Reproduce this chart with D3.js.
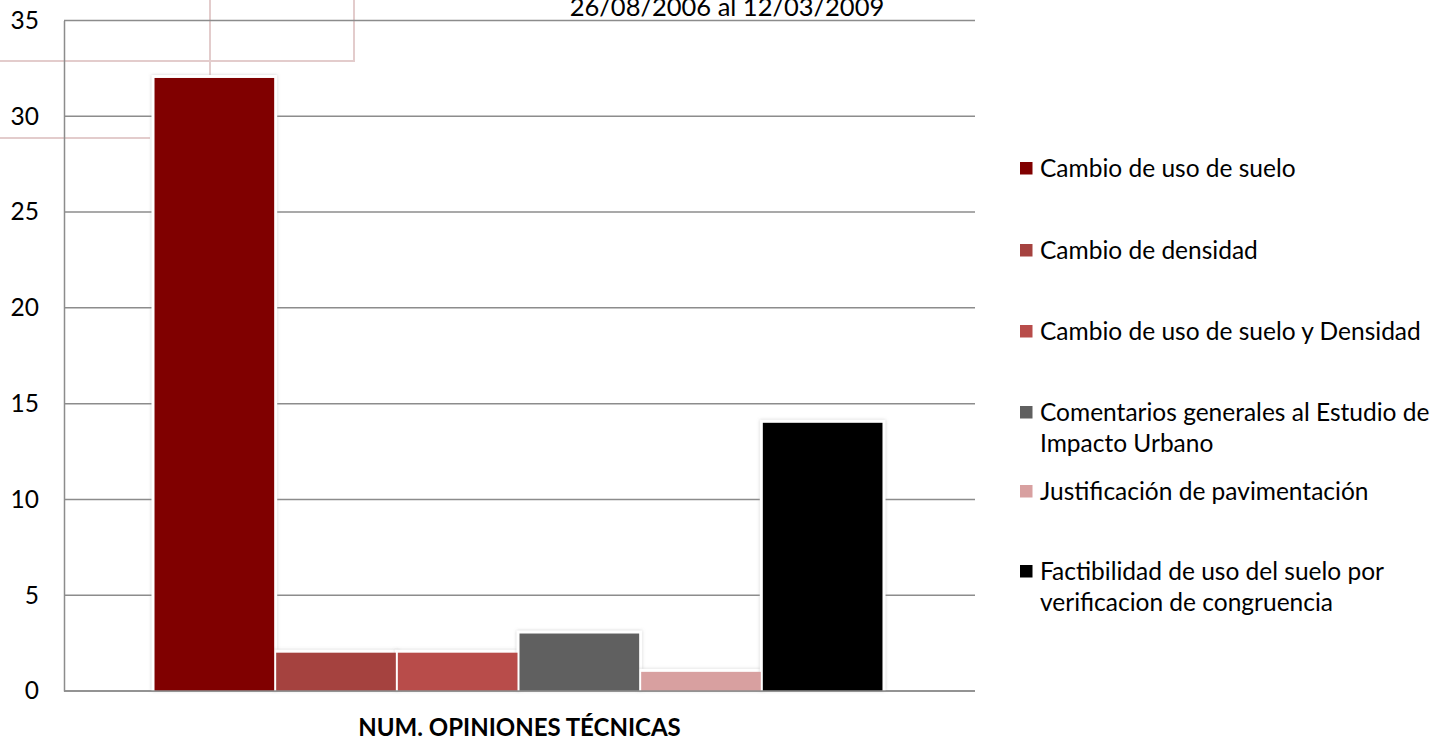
<!DOCTYPE html>
<html><head><meta charset="utf-8">
<script src="https://cdn.jsdelivr.net/npm/d3@7"></script>
<style>html,body{margin:0;padding:0;background:#fff;overflow:hidden}</style>
</head><body>
<svg id="chart" width="1437" height="747"></svg>
<script>
const category = "NUM. OPINIONES TÉCNICAS";
const titleText = "26/08/2006 al 12/03/2009";
const seriesNames = [
  "Cambio de uso de suelo",
  "Cambio de densidad",
  "Cambio de uso de suelo y Densidad",
  "Comentarios generales al Estudio de Impacto Urbano",
  "Justificación de pavimentación",
  "Factibilidad de uso del suelo por verificacion de congruencia"
];
const legendLines = [
  ["Cambio de uso de suelo"],
  ["Cambio de densidad"],
  ["Cambio de uso de suelo y Densidad"],
  ["Comentarios generales al Estudio de", "Impacto Urbano"],
  ["Justificación de pavimentación"],
  ["Factibilidad de uso del suelo por", "verificacion de congruencia"]
];
const values = [32, 2, 2, 3, 1, 14];
const colors = ["#800000", "#a5423f", "#b84c4a", "#606060", "#d8a0a0", "#000000"];
const yTicks = [0, 5, 10, 15, 20, 25, 30, 35];

const svg = d3.select("#chart");
const font = "Lato, 'Noto Sans', sans-serif";
const M = {left: 64, right: 975, top: 20.5, bottom: 691};

// decorative background lines
const deco = svg.append("g").attr("stroke", "#e3cccc").attr("stroke-width", 2).attr("fill", "none");
deco.append("path").attr("d", "M0,61 H354 V0");
deco.append("path").attr("d", "M210,0 V75");
deco.append("path").attr("d", "M0,138 H150");

const x0 = d3.scaleBand().domain([category]).range([M.left, M.right]).paddingInner(0).paddingOuter(0.124);
const x1 = d3.scaleBand().domain(seriesNames).range([0, x0.bandwidth()]).padding(0);
const y = d3.scaleLinear().domain([0, 35]).range([M.bottom, M.top]);

// gridlines
svg.append("g").selectAll("line").data(yTicks).join("line")
  .attr("x1", M.left).attr("x2", M.right)
  .attr("y1", d => y(d)).attr("y2", d => y(d))
  .attr("stroke", "#8c8c8c").attr("stroke-width", 1.5);

// y axis
const yAxis = d3.axisLeft(y).tickValues(yTicks).tickSize(0).tickPadding(25);
const ga = svg.append("g").attr("transform", `translate(${M.left},0)`).call(yAxis);
ga.select(".domain").attr("stroke", "#8c8c8c").attr("stroke-width", 1.5);
ga.selectAll("text").attr("font-family", font).attr("font-size", 24.5).attr("fill", "#000");

// bar shadows/halo
const defs = svg.append("defs");
const f = defs.append("filter").attr("id", "halo").attr("x", "-20%").attr("y", "-20%").attr("width", "140%").attr("height", "140%");
f.append("feDropShadow").attr("dx", 0).attr("dy", 0).attr("stdDeviation", 1.5).attr("flood-color", "#999").attr("flood-opacity", 0.5);

const bars = svg.append("g").attr("transform", `translate(${x0(category)},0)`);
const bw = x1.bandwidth();
bars.selectAll("rect.halo").data(values).join("rect").attr("class", "halo")
  .attr("x", (d, i) => x1(seriesNames[i]) - 3)
  .attr("y", d => y(d) - 3)
  .attr("width", bw + 4)
  .attr("height", d => y(0) - y(d) + 3)
  .attr("fill", "#fff").attr("filter", "url(#halo)");
bars.selectAll("rect.bar").data(values).join("rect").attr("class", "bar")
  .attr("x", (d, i) => x1(seriesNames[i]))
  .attr("y", d => y(d))
  .attr("width", bw - 2)
  .attr("height", d => y(0) - y(d))
  .attr("fill", (d, i) => colors[i]);

// baseline
svg.append("line").attr("x1", M.left).attr("x2", M.right).attr("y1", y(0)).attr("y2", y(0))
  .attr("stroke", "#8c8c8c").attr("stroke-width", 1.5);

// title (cut off at top, as in the reference)
svg.append("text").attr("x", 727).attr("y", 16).attr("text-anchor", "middle")
  .attr("font-family", font).attr("font-size", 25.5).attr("fill", "#000").text(titleText);

// x category label
svg.append("text").attr("x", x0(category) + x0.bandwidth() / 2).attr("y", 736).attr("text-anchor", "middle")
  .attr("font-family", font).attr("font-size", 24).attr("font-weight", "bold").attr("fill", "#000").text(category);

// legend
const legendY = [168, 250, 331, 412, 491, 571];
const lg = svg.append("g");
legendLines.forEach((lines, i) => {
  lg.append("rect").attr("x", 1020).attr("y", legendY[i] - 6).attr("width", 12.5).attr("height", 12.5).attr("fill", colors[i]);
  lines.forEach((t, j) => {
    lg.append("text").attr("x", 1040).attr("y", legendY[i] + j * 31).attr("dy", "0.35em")
      .attr("font-family", font).attr("font-size", 24.5).attr("fill", "#000").text(t);
  });
});
</script>
</body></html>
